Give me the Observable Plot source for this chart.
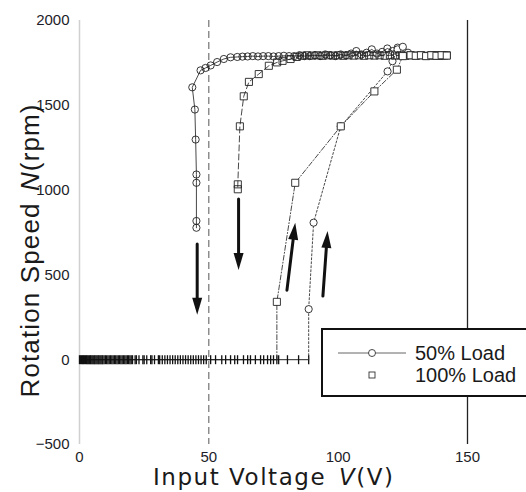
<!DOCTYPE html>
<html><head><meta charset="utf-8">
<script src="https://cdn.jsdelivr.net/npm/d3@7"></script>
<script src="https://cdn.jsdelivr.net/npm/@observablehq/plot@0.6"></script>
<style>
html,body{margin:0;padding:0;background:#fff;overflow:hidden;}
#chart{width:526px;height:492px;overflow:hidden;}
</style></head>
<body><div id="chart"></div>
<script>
// ---------- data ----------
const X_TICKS = [0, 50, 100, 150];
const Y_TICKS = [-500, 0, 500, 1000, 1500, 2000];
const X_LABEL = ["Input Voltage ", "V", "(V)"];
const Y_LABEL = ["Rotation Speed ", "N", "(rpm)"];
const LEGEND_LABELS = ["50% Load", "100% Load"];

// 50% load, voltage decreasing (circles)
const V50_DOWN = [127,125,123,121,119,117,115,113,111,109,107,105,103,101,99,97,95,93,91,89,87,85,83,81,79,77,75,73,71,69,67,65,63,61,58.4,55.8,53.2,50.7,48.7,46.8,43.6,44.6,44.9,45.2,45.2,45.2,45.2];
const N50_DOWN = [1800,1825,1840,1820,1835,1815,1805,1830,1810,1800,1820,1805,1795,1800,1790,1795,1800,1790,1795,1790,1790,1795,1790,1790,1792,1790,1788,1790,1790,1788,1790,1788,1787,1785,1783,1773,1755,1735,1720,1706,1606,1475,1298,1092,1043,818,778];
// 50% load, voltage increasing
const V50_UP = [88.6,88.6,90.5,101,119.1,121,123,125,127];
const N50_UP = [0,298,808,1376,1700,1760,1830,1845,1810];
// 50% load, standstill points
const V50_ZERO = [0,0.8,1.5,2.3,3,3.8,4.5,5.3,6,6.8,7.5,8.3,9,10,11,12,13,14,15,16,17,18,19,20,21.5,23,24.5,26,27.5,29,30.5,32,34,36,38,40,42,44,46,48,50.7,52.6,56.5,58.4,61.1,63.4,66.1,70,73.9,77,80.4,84.7,88.6];

// 100% load, voltage decreasing (squares)
const V100_DOWN = [142,141,140,139,138,137,136,134,132,130,128,126,124,122,120,118,116,114,112,110,108,106,104,102,100,98,96,94,92,90,88,86,84,81.6,78.5,76.4,73.2,69.3,65.5,63.5,62,61.2,61.2];
const N100_DOWN = [1795,1793,1795,1792,1795,1793,1795,1792,1795,1793,1795,1792,1795,1793,1795,1792,1795,1793,1795,1792,1795,1793,1795,1792,1795,1793,1795,1792,1795,1793,1795,1792,1785,1773,1762,1753,1733,1684,1638,1553,1376,1034,1005];
// 100% load, voltage increasing
const V100_UP = [76.3,76.3,83.4,101,114,122.7,125,128,130,132,134,136,138,140,142];
const N100_UP = [0,341,1043,1376,1582,1710,1790,1795,1792,1795,1790,1795,1792,1795,1793];
// 100% load, standstill points
const V100_ZERO = [0.4,1.2,1.9,2.7,3.4,4.2,4.9,5.7,6.4,7.2,7.9,8.7,9.5,10.5,11.5,12.5,13.5,14.5,15.5,16.5,17.5,18.5,19.5,20.5,22,25,28,31,33,35,37,39,41,43,45,47,49,55,60,65,68,71.2,72.7,75,76.3];

// direction arrows
const ARROW_X1 = [45.5, 61.5, 80.2, 94.1];
const ARROW_Y1 = [682, 947, 410, 375];
const ARROW_X2 = [45.5, 61.5, 83.4, 95.9];
const ARROW_Y2 = [265, 529, 808, 759];

// ---------- layout ----------
const W = 526, H = 492;
const X_DOMAIN = [0, 150], X_RANGE = [79, 467];
const Y_DOMAIN = [-500, 2000], M_TOP = 20, M_BOTTOM = 48;
const kx = (X_RANGE[1] - X_RANGE[0]) / (X_DOMAIN[1] - X_DOMAIN[0]);
const ky = (H - M_BOTTOM - M_TOP) / (Y_DOMAIN[1] - Y_DOMAIN[0]);

const pts = (xs, ys) => xs.map((x, i) => ({x, y: ys[i]}));
const zeros = xs => xs.map(x => ({x, y: 0}));

const arrows = ARROW_X1.map((x1, i) => {
  const dx = ARROW_X2[i] - x1, dy = ARROW_Y2[i] - ARROW_Y1[i];
  return {x1, y1: ARROW_Y1[i], x2: ARROW_X2[i], y2: ARROW_Y2[i],
          angle: Math.atan2(dx * kx, dy * ky) * 180 / Math.PI};
});

const headSymbol = {draw(ctx) { ctx.moveTo(0, 0); ctx.lineTo(5, 17); ctx.lineTo(-5, 17); ctx.closePath(); }};
const tickSymbol = {draw(ctx) { ctx.moveTo(0, -4.5); ctx.lineTo(0, 4.5); }};
const fmt = d => d < 0 ? "\u2212" + (-d) : String(d);

const d50down = pts(V50_DOWN, N50_DOWN), d50up = pts(V50_UP, N50_UP), d50z = zeros(V50_ZERO);
const d100down = pts(V100_DOWN, N100_DOWN), d100up = pts(V100_UP, N100_UP), d100z = zeros(V100_ZERO);

const chart = Plot.plot({
  width: W, height: H,
  marginTop: M_TOP, marginBottom: M_BOTTOM, marginLeft: X_RANGE[0], marginRight: 0,
  x: {domain: X_DOMAIN, range: X_RANGE},
  y: {domain: Y_DOMAIN},
  style: {fontFamily: "'Liberation Sans', Arial, sans-serif", fontSize: "15px", color: "#1d1d28", background: "white"},
  marks: [
    Plot.ruleX([0], {stroke: "#d0d0d0", strokeWidth: 1.5}),
    Plot.ruleX([50], {stroke: "#555", strokeDasharray: "7,4", strokeWidth: 1}),
    Plot.ruleX([150], {stroke: "#222", strokeWidth: 1.3}),
    Plot.axisX({ticks: X_TICKS, tickSize: 0, tickPadding: 7, label: null, tickFormat: fmt}),
    Plot.axisY({ticks: Y_TICKS, tickSize: 0, tickPadding: 10, label: null, tickFormat: fmt}),
    // standstill line
    Plot.line(d50z, {x: "x", y: "y", stroke: "#222", strokeWidth: 1}),
    Plot.line(d100z, {x: "x", y: "y", stroke: "#222", strokeWidth: 1}),
    Plot.dot(d50z, {x: "x", y: "y", symbol: tickSymbol, stroke: "#111", strokeWidth: 1.3}),
    Plot.dot(d100z, {x: "x", y: "y", symbol: tickSymbol, stroke: "#111", strokeWidth: 1.3}),
    // branches
    Plot.line(d50down, {x: "x", y: "y", stroke: "#333", strokeWidth: 0.9}),
    Plot.line(d50up, {x: "x", y: "y", stroke: "#333", strokeWidth: 0.9, strokeDasharray: "2,2"}),
    Plot.line(d100down, {x: "x", y: "y", stroke: "#333", strokeWidth: 0.9, strokeDasharray: "6,3"}),
    Plot.line(d100up, {x: "x", y: "y", stroke: "#333", strokeWidth: 0.9, strokeDasharray: "5,2,1,2"}),
    Plot.dot(d50down, {x: "x", y: "y", symbol: "circle", r: 3.6, stroke: "#222", strokeWidth: 0.9, fill: "none"}),
    Plot.dot(d50up, {x: "x", y: "y", filter: d => d.y > 0, symbol: "circle", r: 3.6, stroke: "#222", strokeWidth: 0.9, fill: "white"}),
    Plot.dot(d100down, {x: "x", y: "y", symbol: "square", r: 4, stroke: "#222", strokeWidth: 0.9, fill: "none"}),
    Plot.dot(d100up, {x: "x", y: "y", filter: d => d.y > 0, symbol: "square", r: 4, stroke: "#222", strokeWidth: 0.9, fill: "white"}),
    // arrows
    Plot.arrow(arrows, {x1: "x1", y1: "y1", x2: "x2", y2: "y2", stroke: "#111", strokeWidth: 3, headLength: 0, insetEnd: 12}),
    Plot.dot(arrows, {x: "x2", y: "y2", symbol: headSymbol, rotate: "angle", fill: "#111", stroke: "none"})
  ]
});
document.getElementById("chart").appendChild(chart);

// ---------- titles and legend ----------
const svg = d3.select(chart);
const xt = svg.append("text")
  .attr("x", 153).attr("y", 485)
  .attr("text-anchor", "start")
  .attr("textLength", 240).attr("lengthAdjust", "spacing")
  .attr("font-family", "'DejaVu Sans', sans-serif")
  .attr("font-size", 23).attr("fill", "#1a1a1a");
xt.append("tspan").text(X_LABEL[0]);
xt.append("tspan").attr("font-style", "italic").attr("dx", 4).text(X_LABEL[1]);
xt.append("tspan").text(X_LABEL[2]);

const yt = svg.append("text")
  .attr("transform", "translate(39,251) rotate(-90)")
  .attr("text-anchor", "middle")
  .attr("textLength", 293).attr("lengthAdjust", "spacing")
  .attr("font-family", "'Liberation Sans', Arial, sans-serif")
  .attr("font-size", 26).attr("fill", "#1a1a1a");
yt.append("tspan").text(Y_LABEL[0]);
yt.append("tspan").attr("font-style", "italic").attr("dx", 3).text(Y_LABEL[1]);
yt.append("tspan").text(Y_LABEL[2]);

const lg = svg.append("g").attr("text-anchor", "start");
lg.append("rect").attr("x", 322).attr("y", 329).attr("width", 215).attr("height", 67)
  .attr("fill", "white").attr("stroke", "#111").attr("stroke-width", 2);
lg.append("line").attr("x1", 338).attr("x2", 406).attr("y1", 353).attr("y2", 353)
  .attr("stroke", "#666").attr("stroke-width", 1);
lg.append("circle").attr("cx", 372).attr("cy", 353).attr("r", 3.5)
  .attr("fill", "white").attr("stroke", "#333").attr("stroke-width", 0.9);
lg.append("rect").attr("x", 369).attr("y", 372).attr("width", 6).attr("height", 6)
  .attr("fill", "none").attr("stroke", "#333").attr("stroke-width", 0.9);
LEGEND_LABELS.forEach((t, i) => {
  lg.append("text").attr("x", 415).attr("y", 353 + i * 22).attr("dy", "0.36em")
    .attr("text-anchor", "start")
    .attr("font-family", "'Liberation Sans', Arial, sans-serif").attr("font-size", 20)
    .attr("fill", "#1a1a1a").text(t);
});
</script>
</body></html>
